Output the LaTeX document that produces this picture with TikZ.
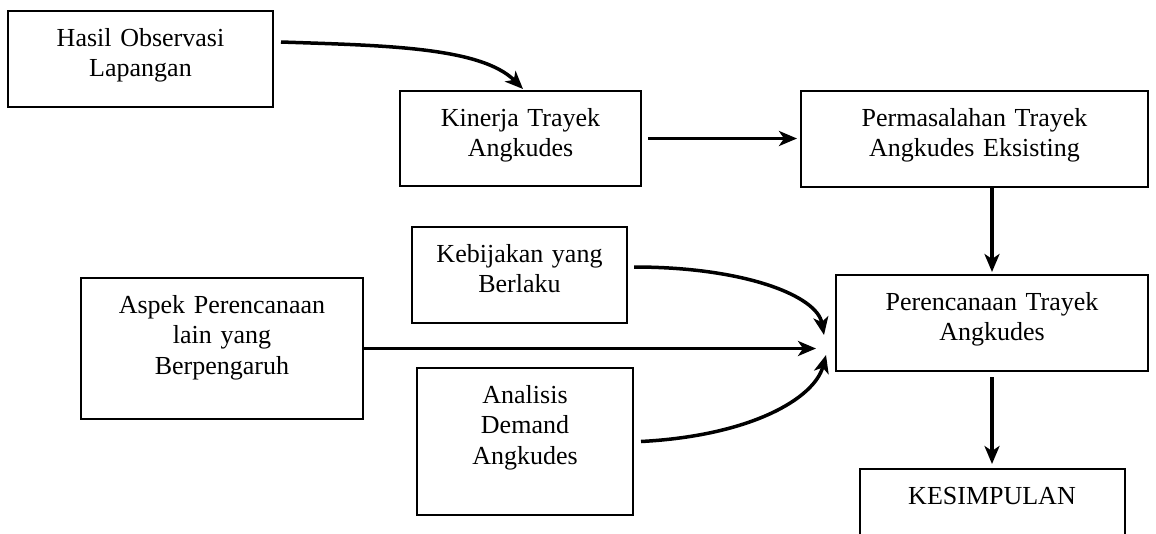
\documentclass[tikz,border=0pt]{standalone}
\usepackage{fontspec}
\setmainfont{Liberation Serif}
\usetikzlibrary{arrows.meta,positioning}

\begin{document}
\begin{tikzpicture}[x=1pt,y=1pt,node distance=96pt,
  box/.style={draw,line width=2pt,inner sep=0pt,align=center,text height=35pt,font=\fontsize{26}{30.5}\selectfont},
  arr/.style={-{Stealth[length=18pt,width=15pt,inset=5pt]},line width=3.5pt}]
  \useasboundingbox (0,0) rectangle (1156,-533);
  \node[box,text width=265pt,text depth=61pt] (hasil) at (140.5,-59) {Hasil Observasi\\Lapangan};
  \node[box,text width=241pt,text depth=60pt] (kinerja) at (520.5,-138.5) {Kinerja Trayek\\Angkudes};
  \node[box,text width=347pt,text depth=61pt] (masalah) at (974.5,-139) {Permasalahan Trayek\\Angkudes Eksisting};
  \node[box,text width=215pt,text depth=61pt] (kebijakan) at (519.5,-275) {Kebijakan yang\\Berlaku};
  \node[box,text width=282pt,text depth=106pt] (aspek) at (222,-348.5) {Aspek Perencanaan\\lain yang\\Berpengaruh};
  \node[box,text width=216pt,text depth=112pt] (analisis) at (525,-441.5) {Analisis\\Demand\\Angkudes};
  \node[box,text width=312pt,text depth=61pt] (rencana) at (992,-323) {Perencanaan Trayek\\Angkudes};
  \node[box,text width=265pt,text depth=61pt,below=of rencana] (simpul) {KESIMPULAN};
  \coordinate (merge) at ([xshift=-19pt,yshift=-24pt]rencana.west);

  \draw[arr] ([xshift=7pt,yshift=17pt]hasil.east) to[out=-2,in=135,out distance=100pt,in distance=60pt] ([xshift=2.5pt,yshift=1pt]kinerja.north);
  \draw[arr,shorten <=6pt,shorten >=3pt] (kinerja.east) -- (kinerja.east -| masalah.west);
  \draw[arr,shorten >=2pt] (rencana.north |- masalah.south) -- (rencana.north);
  \draw[arr] ([xshift=6pt,yshift=8pt]kebijakan.east) to[out=0,in=100,out distance=110pt,in distance=40pt] ([xshift=8pt,yshift=12pt]merge);
  \draw[arr] (aspek.east) -- (aspek.east -| merge);
  \draw[arr] ([xshift=7pt]analisis.east) to[out=3,in=-105,out distance=110pt,in distance=45pt] ([xshift=10pt,yshift=-8pt]merge);
  \draw[arr,shorten <=5pt,shorten >=4pt] (rencana.south) -- (simpul.north);
\end{tikzpicture}
\end{document}
